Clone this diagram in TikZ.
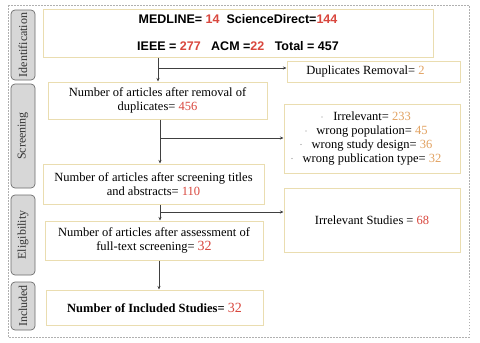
\documentclass[tikz,border=0pt]{standalone}
\usepackage{fontspec}
\setmainfont{Liberation Serif}
\newfontfamily\arialf{Liberation Sans}
\usetikzlibrary{arrows.meta}
\definecolor{boxline}{HTML}{EADDB0}
\definecolor{numred}{HTML}{D9473E}
\definecolor{numorg}{HTML}{E2A261}
\definecolor{labfill}{HTML}{D7D7D7}
\definecolor{labline}{HTML}{6E6E6E}
\definecolor{frameline}{HTML}{B0B0B0}
\begin{document}
\begin{tikzpicture}[x=1pt,y=-1pt,
  box/.style={draw=boxline,line width=1pt,fill=white,align=center,inner sep=2pt,
    font=\fontsize{12.5}{14}\selectfont},
  phase/.style={draw=labline,fill=labfill,rounded corners=4pt,line width=0.7pt,rotate=90,
    minimum height=24pt,inner sep=0pt,font=\fontsize{12}{13}\selectfont,text=black!80},
  arr/.style={draw=black!75,line width=0.6pt,-{Stealth[length=3.5pt,width=3pt]}},
  dotb/.style={fill=black!45}]
\useasboundingbox (0,0) rectangle (480,343);
\fill[white] (0,0) rectangle (480,343);
\draw[frameline,dash pattern=on 1.5pt off 1.5pt,line width=0.6pt] (8,5) rectangle (469,337);
% phases
\node[phase,minimum width=70pt] (ident) at (23,45) {Identification};
\node[phase,minimum width=104pt] (screen) at (23,136) {Screening};
\node[phase,minimum width=80pt] (elig) at (23,235) {Eligibility};
\node[phase,minimum width=48pt] (incl) at (23,306) {Included};
% main boxes
\node[box,minimum width=390pt,minimum height=48pt,font=\arialf\bfseries\fontsize{12.5}{14}\selectfont] (top) at (238,33)
  {MEDLINE= \textcolor{numred}{14}\ \ ScienceDirect=\textcolor{numred}{144}\\[13pt]
   IEEE = \textcolor{numred}{277}\ \ \ ACM =\textcolor{numred}{22}\ \ \ Total = 457};
\node[box,minimum width=173pt,minimum height=21pt,anchor=center] (dup) at (373.5,71.5)
  {\hspace{-16pt}Duplicates Removal= \textcolor{numorg}{2}};
\node[box,minimum width=219pt,minimum height=37pt] (b2) at (157.5,100.5)
  {Number of articles after removal of\\duplicates= \textcolor{numred}{456}};
\node[box,minimum width=176pt,minimum height=69pt,font=\fontsize{12.5}{13.7}\selectfont] (excl) at (372,138.5)
  {Irrelevant= \textcolor{numorg}{233}\\wrong population= \textcolor{numorg}{45}\\
   wrong study design= \textcolor{numorg}{36}\\wrong publication type= \textcolor{numorg}{32}};
\node[box,minimum width=221pt,minimum height=40pt] (b3) at (153.5,184)
  {Number of articles after screening titles\\and abstracts= \textcolor{numred}{110}};
\node[box,minimum width=176pt,minimum height=64pt] (irr) at (372,220)
  {Irrelevant Studies = \textcolor{numred}{68}};
\node[box,minimum width=218pt,minimum height=39pt] (b4) at (154,240.5)
  {Number of articles after assessment of\\full-text screening= \textcolor{numred}{\fontsize{14}{14}\selectfont 32}};
\node[box,minimum width=217pt,minimum height=35pt] (b5) at (154.5,307.5)
  {\textbf{Number of Included Studies=} \textcolor{numred}{\fontsize{14}{14}\selectfont 32}};
% bullet dots
\fill[dotb] (322,117) circle (0.7pt);
\fill[dotb] (306,131) circle (0.7pt);
\fill[dotb] (301,144.5) circle (0.7pt);
\fill[dotb] (292,158.5) circle (0.7pt);
% connectors
\coordinate (j1) at (158,68);
\coordinate (j2) at (160,138);
\coordinate (j3) at (160,212);
\draw[arr] (top.south -| j1) -- (j1 |- b2.north);
\draw[arr] (j1) -- (j1 -| dup.west);
\draw[arr] (b2.south -| j2) -- (j2 |- b3.north);
\draw[arr] (j2) -- (j2 -| excl.west);
\draw[arr] (b3.south -| j3) -- (j3 |- b4.north);
\draw[arr] (j3) -- (j3 -| irr.west);
\coordinate (j4) at (159,290);
\draw[arr] (b4.south -| j4) -- (j4 |- b5.north);
\end{tikzpicture}
\end{document}
